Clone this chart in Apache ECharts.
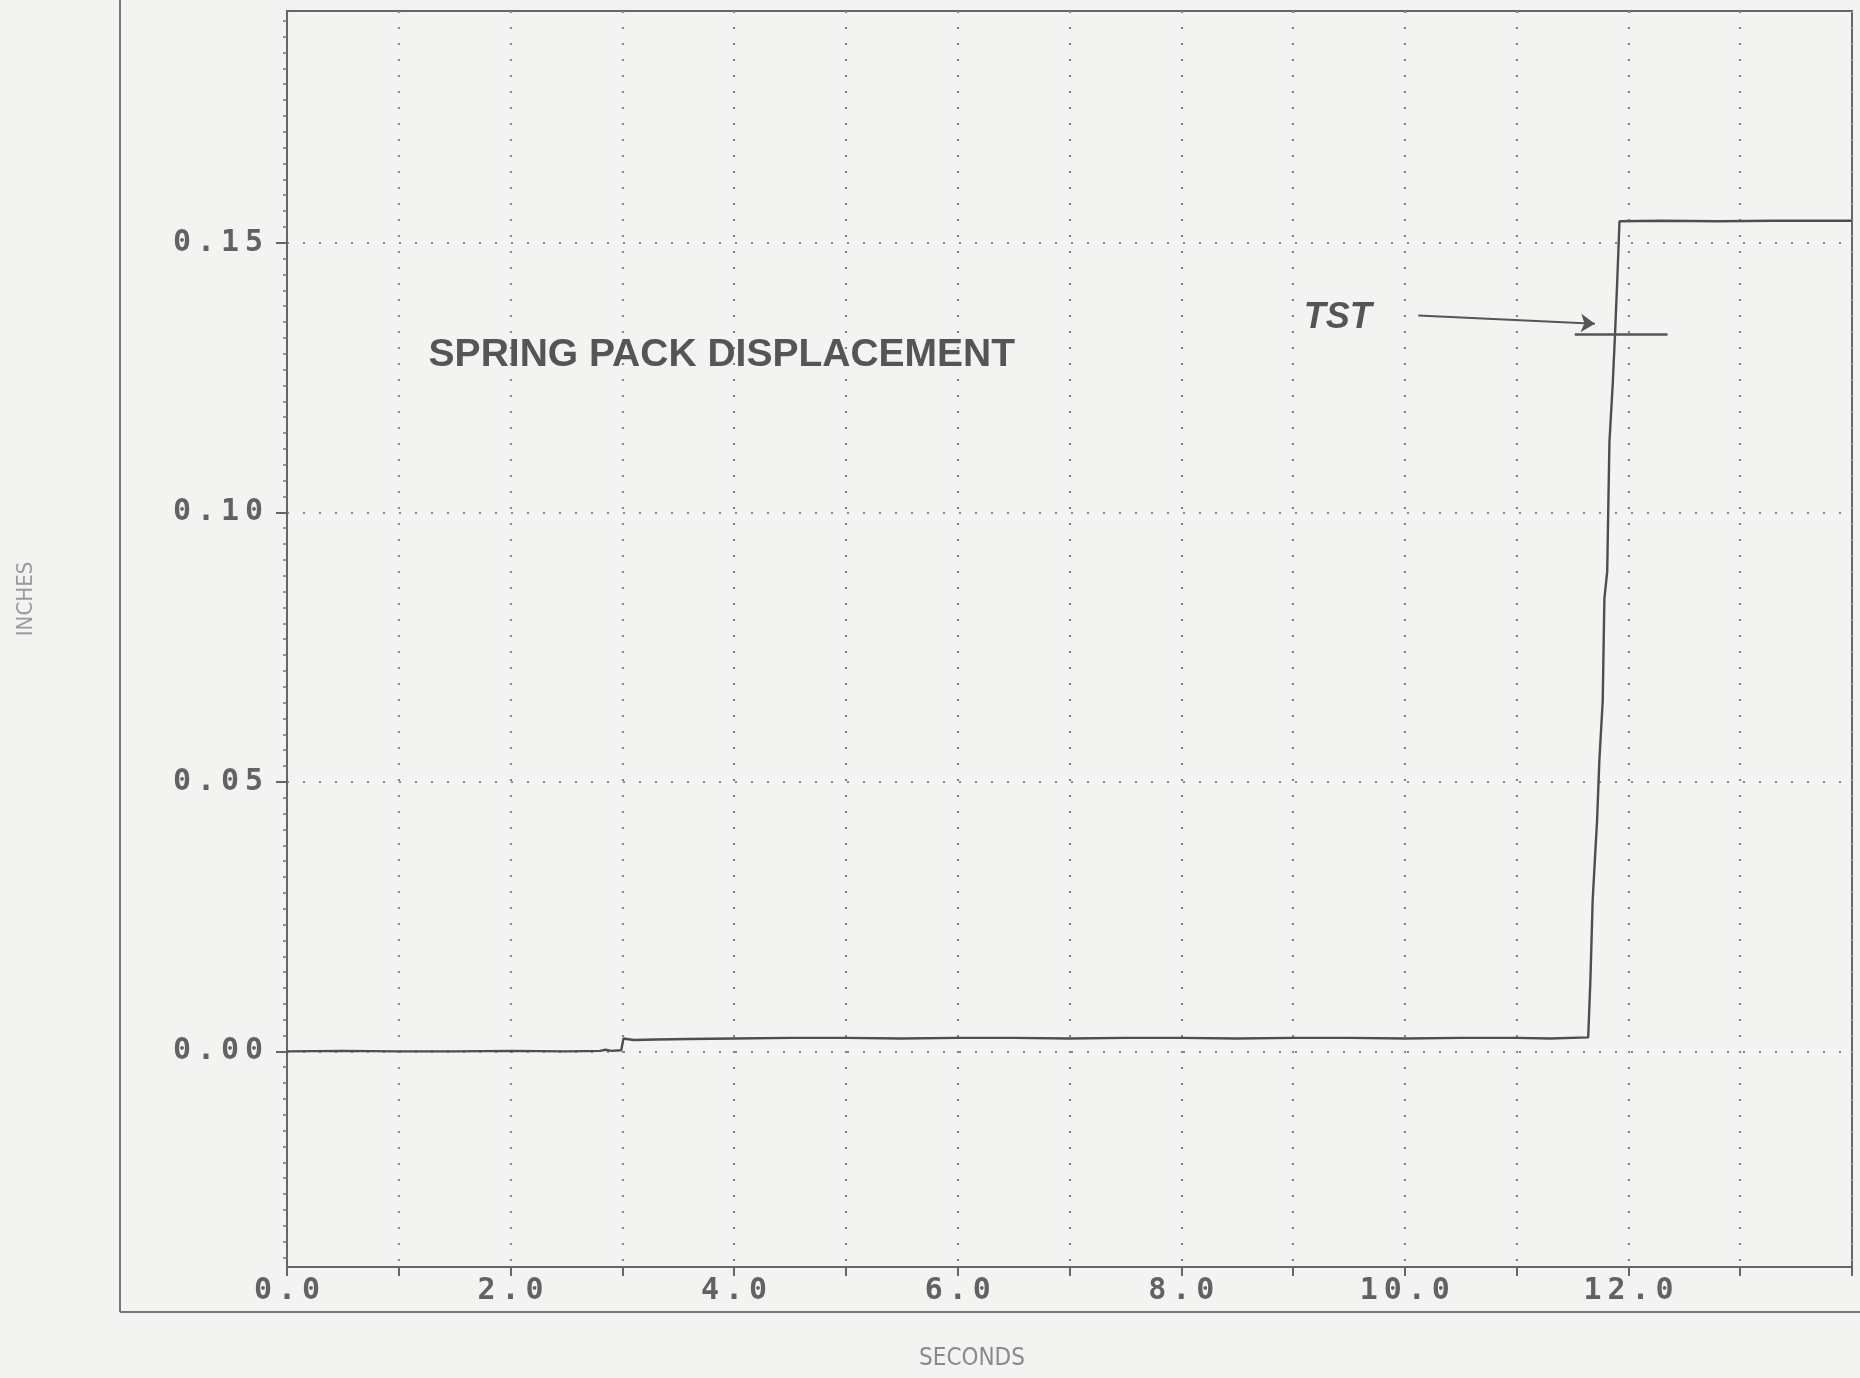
<!DOCTYPE html>
<html>
<head>
<meta charset="utf-8">
<title>Spring Pack Displacement</title>
<script src="https://cdn.jsdelivr.net/npm/echarts@6/dist/echarts.min.js"></script>
<style>
  html, body { margin: 0; padding: 0; background: #f3f3f1; }
  #chart { width: 1860px; height: 1378px; }
</style>
</head>
<body>
<div id="chart"></div>
<script>
// Recorded spring pack displacement (inches) against time (seconds)
const timeSec = [0.0, 0.5, 1.0, 1.5, 2.0, 2.5, 2.8, 2.85, 2.9, 2.99, 3.01, 3.1, 3.3, 3.6, 4.0, 4.5, 5.0, 5.5,
  6.0, 6.5, 7.0, 7.5, 8.0, 8.5, 9.0, 9.5, 10.0, 10.5, 11.0, 11.3, 11.64, 11.66, 11.68, 11.70,
  11.72, 11.74, 11.77, 11.785, 11.81, 11.83, 11.86, 11.88, 11.90, 11.92, 12.3, 12.8, 13.3, 14.0];
const inches = [0.0, 0.0001, 0.0, 0.0, 0.0001, 0.0, 0.0001, 0.0003, 0.0001, 0.0002, 0.0024, 0.0021, 0.0022, 0.0023,
  0.0024, 0.0025, 0.0025, 0.0024, 0.0025, 0.0025, 0.0024, 0.0025, 0.0025, 0.0024, 0.0025, 0.0025, 0.0024,
  0.0025, 0.0025, 0.0024, 0.0026, 0.0133, 0.0280, 0.0356, 0.0430, 0.0540, 0.0650, 0.0840, 0.0890,
  0.1130, 0.1240, 0.1330, 0.1430, 0.1540, 0.1541, 0.1540, 0.1541, 0.1541];

// Axis ranges and labelled ticks
const xMin = 0, xMax = 14, xStep = 1;
const xLabelledTicks = [0, 2, 4, 6, 8, 10, 12];
const yMin = -0.04, yMax = 0.193;
const yTickValues = [0.0, 0.05, 0.10, 0.15];

// TST marker: crossbar and pointing arrow
const tstBarX = [11.52, 12.35];
const tstBarY = [0.133, 0.133];
const tstArrowFrom = [10.12, 0.1365];
const tstArrowTo = [11.70, 0.135];
const tstLabelAt = [9.40, 0.1361];
const titleAt = [3.89, 0.1291];

const ink = '#555555';
const gridDots = '#868686';
const monoFont = "'DejaVu Sans Mono', 'Liberation Mono', monospace";

// each character of a tick label sits in its own fixed-width cell
function cells(str) {
  return str.split('').map(c => '{c|' + c + '}').join('');
}
const cellRich = { c: { width: 24, align: 'center', fontFamily: monoFont, fontWeight: 'bold', fontSize: 30, color: '#626262' } };

const chart = echarts.init(document.getElementById('chart'), null, { renderer: 'canvas' });

const option = {
  backgroundColor: '#f3f3f1',
  animation: false,
  grid: { left: 287, right: 8, top: 11, bottom: 111, show: true, borderColor: '#666', borderWidth: 2, containLabel: false },
  xAxis: {
    type: 'value', min: xMin, max: xMax, interval: xStep,
    axisLine: { show: true, onZero: false, lineStyle: { color: '#666', width: 2 } },
    axisTick: { show: true, length: 9, lineStyle: { color: '#666', width: 2 } },
    axisLabel: {
      margin: 9, lineHeight: 30,
      formatter: v => xLabelledTicks.indexOf(Math.round(v)) >= 0 && Math.abs(v - Math.round(v)) < 1e-9 ? cells(v.toFixed(1)) : '',
      rich: cellRich
    },
    splitLine: { show: true, lineStyle: { color: gridDots, width: 2.2, type: [2, 14] } }
  },
  yAxis: {
    type: 'value', min: yMin, max: yMax,
    axisLine: { show: true, onZero: false, lineStyle: { color: '#666', width: 2 } },
    axisTick: { show: true, length: 11, customValues: yTickValues, lineStyle: { color: '#666', width: 2 } },
    minorTick: { show: true, splitNumber: 17, length: 4, lineStyle: { color: '#777', width: 1.5 } },
    axisLabel: {
      margin: 21, customValues: yTickValues,
      formatter: v => cells(v.toFixed(2)),
      rich: cellRich
    },
    splitLine: { show: true, lineStyle: { color: gridDots, width: 2.2, type: [2, 14] } }
  },
  series: [
    {
      name: 'Spring pack displacement',
      type: 'line',
      data: timeSec.map((t, i) => [t, inches[i]]),
      showSymbol: false,
      lineStyle: { color: '#4e4e4e', width: 2.4 },
      z: 5
    },
    {
      name: 'TST',
      type: 'line',
      data: tstBarX.map((x, i) => [x, tstBarY[i]]),
      showSymbol: false,
      lineStyle: { color: ink, width: 2.4 },
      z: 6,
      markLine: {
        silent: true,
        symbol: ['none', 'arrow'],
        symbolSize: 14,
        label: { show: false },
        lineStyle: { color: ink, width: 2, type: 'solid' },
        data: [[{ coord: tstArrowFrom }, { coord: tstArrowTo }]]
      }
    }
  ]
};
chart.setOption(option);

// annotation texts placed at data positions
const tstPx = chart.convertToPixel({ gridIndex: 0 }, tstLabelAt);
const titlePx = chart.convertToPixel({ gridIndex: 0 }, titleAt);

chart.setOption({
  graphic: [
    // outer frame around the plot
    { type: 'line', silent: true, shape: { x1: 120, y1: 0, x2: 120, y2: 1312 }, style: { stroke: '#777', lineWidth: 2 } },
    { type: 'line', silent: true, shape: { x1: 120, y1: 1312, x2: 1860, y2: 1312 }, style: { stroke: '#777', lineWidth: 2 } },
    {
      type: 'text', x: titlePx[0], y: titlePx[1], silent: true,
      style: { text: 'SPRING PACK DISPLACEMENT', fill: '#555', font: "bold 39px 'Liberation Sans', Arial, sans-serif", textAlign: 'center', textVerticalAlign: 'middle' }
    },
    {
      type: 'text', x: tstPx[0], y: tstPx[1], silent: true,
      style: { text: 'TST', fill: '#555', font: "italic bold 36px 'Liberation Sans', Arial, sans-serif", textAlign: 'center', textVerticalAlign: 'middle' }
    },
    {
      type: 'text', x: 26, y: 599, rotation: Math.PI / 2, silent: true,
      style: { text: 'INCHES', fill: '#9a9a9a', font: "22px 'DejaVu Sans Condensed', 'Liberation Sans Narrow', sans-serif", textAlign: 'center', textVerticalAlign: 'middle' }
    },
    {
      type: 'text', x: 972, y: 1359, silent: true,
      style: { text: 'SECONDS', fill: '#8a8a8a', font: "24px 'DejaVu Sans Condensed', 'Liberation Sans Narrow', sans-serif", textAlign: 'center', textVerticalAlign: 'middle' }
    }
  ]
});
</script>
</body>
</html>
